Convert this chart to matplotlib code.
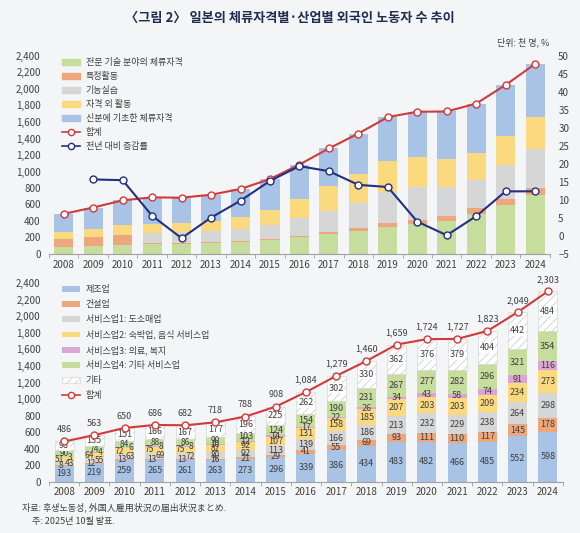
import numpy as np
import matplotlib
matplotlib.use("Agg")
import matplotlib.pyplot as plt
from matplotlib.patches import Patch
from matplotlib.lines import Line2D

plt.rcParams['font.family'] = ['Noto Sans CJK KR', 'DejaVu Sans']
plt.rcParams['hatch.color'] = '#c4c4c4'
plt.rcParams['hatch.linewidth'] = 0.6

years = [str(y) for y in range(2008, 2025)]

# 체류자격별 (천 명)
prof = [84, 100, 110, 121, 124, 133, 147, 167, 201, 238, 277, 329, 360, 395, 480, 596, 719]
spec = [95, 108, 120, 6, 7, 8, 9, 12, 19, 26, 36, 41, 46, 66, 73, 71, 77]
intern = [0, 0, 5, 128, 134, 136, 145, 168, 211, 258, 308, 384, 402, 352, 343, 412, 471]
outside = [85, 100, 113, 113, 108, 120, 146, 192, 240, 297, 344, 373, 370, 335, 331, 353, 398]
status = [222, 255, 302, 318, 309, 321, 341, 369, 413, 460, 495, 532, 546, 579, 596, 617, 638]
total = [486, 563, 650, 686, 682, 718, 788, 908, 1084, 1279, 1460, 1659, 1724, 1727, 1823, 2049, 2303]
growth = [np.nan, 15.7, 15.5, 5.6, -0.6, 5.1, 9.8, 15.3, 19.4, 18.0, 14.2, 13.6, 4.0, 0.2, 5.5, 12.4, 12.4]

# 산업별 (천 명)
manuf = [193, 219, 259, 265, 261, 263, 273, 296, 339, 386, 434, 483, 482, 466, 485, 552, 598]
constr = [8, 12, 13, 13, 13, 16, 21, 29, 41, 55, 69, 93, 111, 110, 117, 145, 178]
retail = [43, 55, 63, 69, 72, 80, 92, 113, 139, 166, 186, 213, 232, 229, 238, 264, 298]
food = [51, 64, 72, 75, 75, 82, 92, 107, 131, 158, 185, 207, 203, 203, 209, 234, 273]
medical = [3, 4, 6, 8, 8, 10, 12, 14, 17, 22, 26, 34, 43, 58, 74, 91, 116]
service = [90, 74, 84, 88, 86, 90, 103, 124, 154, 190, 231, 267, 277, 282, 296, 321, 354]
others = [98, 135, 151, 166, 167, 177, 196, 225, 262, 302, 330, 362, 376, 379, 404, 442, 484]

top_labels = ['전문 기술 분야의 체류자격', '특정활동', '기능실습', '자격 외 활동', '신분에 기초한 체류자격']
bot_labels = ['제조업', '건설업', '서비스업1: 도소매업', '서비스업2: 숙박업, 음식 서비스업',
              '서비스업3: 의료, 복지', '서비스업4: 기타 서비스업', '기타']

GREEN, ORANGE, GRAY, YELLOW, BLUE = '#c6dd9e', '#eea77c', '#d6d6d6', '#fbda7f', '#a8c3e5'
PINK = '#dba6d6'
RED, NAVY = '#d2393b', '#233082'
TXT = '#404040'
BG = '#f4f5f6'

fig = plt.figure(figsize=(5.8, 5.33), dpi=100, facecolor=BG)
x = np.arange(len(years))

fig.text(0.5, 0.967, '〈그림 2〉 일본의 체류자격별·산업별 외국인 노동자 수 추이',
         ha='center', va='center', fontsize=9.5, fontweight='bold', color='#1f2d50')
fig.text(0.948, 0.921, '단위: 천 명, %', ha='right', va='center', fontsize=6.5, color=TXT)


def style_axis(ax):
    ax.set_facecolor('none')
    for s in ['top', 'right', 'left']:
        ax.spines[s].set_visible(False)
    ax.spines['bottom'].set_color('#a0a0a0')
    ax.spines['bottom'].set_linewidth(0.8)
    ax.set_xticks(x)
    ax.set_xticklabels(years)
    ax.set_xticks(np.arange(-0.5, len(years), 1), minor=True)
    ax.tick_params(axis='x', which='major', length=0, labelsize=7, colors=TXT, pad=4)
    ax.tick_params(axis='x', which='minor', length=3, color='#a0a0a0')
    ax.tick_params(axis='y', length=0, labelsize=7, colors=TXT, pad=6)
    ax.set_xlim(-0.5, len(years) - 0.5)
    ax.set_ylim(0, 2400)
    ax.set_yticks(range(0, 2401, 200))
    ax.set_yticklabels([f'{v:,}' for v in range(0, 2401, 200)])


# ---- 위쪽: 체류자격별 ----
ax1 = fig.add_axes([0.0845, 0.5235, 0.8635, 0.3715])
style_axis(ax1)
bottom = np.zeros(len(years))
for vals, col in zip([prof, spec, intern, outside, status], [GREEN, ORANGE, GRAY, YELLOW, BLUE]):
    ax1.bar(x, vals, 0.65, bottom=bottom, color=col, zorder=2)
    bottom += np.array(vals)
ax1.plot(x, total, color=RED, lw=1.5, marker='o', ms=5, mfc='white', mec=RED, mew=1, zorder=4)

ax2 = ax1.twinx()
ax2.set_ylim(-5, 50)
ax2.set_yticks(range(-5, 51, 5))
for s in ax2.spines.values():
    s.set_visible(False)
ax2.tick_params(axis='y', length=0, labelsize=7, colors=TXT, pad=6)
ax2.plot(x, growth, color=NAVY, lw=1.5, marker='o', ms=5, mfc='white', mec=NAVY, mew=1, zorder=5)

handles = [Patch(color=c) for c in [GREEN, ORANGE, GRAY, YELLOW, BLUE]]
handles += [Line2D([], [], color=RED, lw=1.2, marker='o', ms=4.5, mfc='white', mec=RED),
            Line2D([], [], color=NAVY, lw=1.2, marker='o', ms=4.5, mfc='white', mec=NAVY)]
ax2.legend(handles, top_labels + ['합계', '전년 대비 증감률'], loc='upper left',
           bbox_to_anchor=(0.01, 1.03), frameon=False, fontsize=6.5, labelspacing=0.55,
           handlelength=2.0, handleheight=0.6, handletextpad=0.6, labelcolor=TXT)

# ---- 아래쪽: 산업별 ----
ax3 = fig.add_axes([0.0845, 0.0963, 0.886, 0.3722])
style_axis(ax3)
series = [manuf, constr, retail, food, medical, service, others]
colors = [BLUE, ORANGE, GRAY, YELLOW, PINK, GREEN, 'white']
# 앞쪽 몇 해는 구간이 얇아서 숫자를 좌우로 비켜 놓음
shift = {1: -0.1, 2: 0.17, 3: -0.17, 4: 0.2}
bottom = np.zeros(len(years))
for i, (vals, col) in enumerate(zip(series, colors)):
    vals = np.array(vals)
    if col == 'white':
        ax3.bar(x, vals, 0.63, bottom=bottom, color='white', hatch='////', edgecolor='#d0d0d0',
                lw=0.4, zorder=2)
    else:
        ax3.bar(x, vals, 0.63, bottom=bottom, color=col, zorder=2)
    for xi, b, v in zip(x, bottom, vals):
        kw = {}
        if col == 'white':
            kw['bbox'] = dict(facecolor='white', edgecolor='none', pad=0.3)
        dx = shift.get(i, 0) if xi <= 4 else 0
        fs = 6 if (xi <= 5 and 0 < i < 6) else 6.5
        ax3.text(xi + dx, b + v / 2, str(v), ha='center', va='center', fontsize=fs, color=TXT,
                 zorder=3, **kw)
    bottom += vals
ax3.plot(x, total, color=RED, lw=1.5, marker='o', ms=5, mfc='white', mec=RED, mew=1, zorder=4)
for xi, t in zip(x, total):
    ax3.text(xi, t + 90, f'{t:,}', ha='center', va='bottom', fontsize=6.5, color=TXT, zorder=5)

handles = [Patch(facecolor=c) for c in colors[:-1]]
handles.append(Patch(facecolor='white', hatch='////', edgecolor='#d0d0d0', lw=0.4))
handles.append(Line2D([], [], color=RED, lw=1.2, marker='o', ms=4.5, mfc='white', mec=RED))
ax3.legend(handles, bot_labels + ['합계'], loc='upper left', bbox_to_anchor=(0.01, 1.03),
           frameon=False, fontsize=6.5, labelspacing=0.65, handlelength=2.0, handleheight=0.6,
           handletextpad=0.6, labelcolor=TXT)

fig.text(0.038, 0.048, '자료: 후생노동성, 外国人雇用状況の届出状況まとめ.', ha='left', va='center',
         fontsize=6.5, color=TXT)
fig.text(0.055, 0.021, '주: 2025년 10월 발표.', ha='left', va='center', fontsize=6.5, color=TXT)

fig.savefig('out.png', dpi=100, facecolor=BG)
